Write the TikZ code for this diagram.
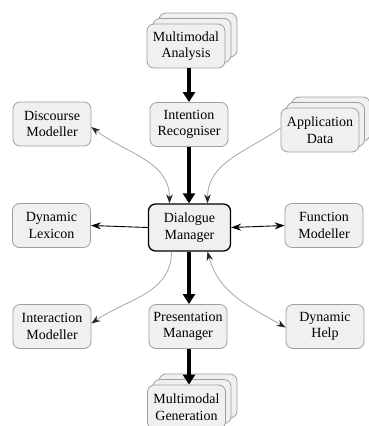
\documentclass[tikz,border=0pt]{standalone}
\usepackage{fontspec}
\setmainfont{Liberation Serif}
\usetikzlibrary{arrows.meta}
\begin{document}
\begin{tikzpicture}[x=1pt,y=1pt,
  box/.style={draw=gray!75, fill=gray!12, rounded corners=7pt, line width=0.8pt,
    minimum width=78pt, minimum height=44pt, align=center, inner sep=1pt,
    font=\fontsize{14}{16.5}\selectfont},
  dmbox/.style={box, draw=black, line width=1.3pt, minimum width=82pt, minimum height=47pt},
  back/.style={box},
  thick arrow/.style={line width=4.8pt, -{Triangle[length=10pt,width=12pt]}},
  thin arrow/.style={line width=0.9pt, -{Stealth[length=10pt,width=7pt]}},
  thin both/.style={line width=0.9pt, {Stealth[length=10pt,width=7pt]}-{Stealth[length=10pt,width=7pt]}},
  grey arrow/.style={draw=gray!70, line width=0.8pt, -{Stealth[length=9pt,width=6.5pt,color=black!85]}},
  grey both/.style={draw=gray!70, line width=0.8pt, {Stealth[length=9pt,width=6.5pt,color=black!85]}-{Stealth[length=9pt,width=6.5pt,color=black!85]}}
]
\useasboundingbox (0,0) rectangle (369,-426);

% stacked: Multimodal Analysis
\node[back] (mab2) at (198,-35) {};
\node[back] (mab1) at (192,-40.5) {};
\node[box] (ma) at (186,-46) {Multimodal\\Analysis};

% stacked: Application Data
\node[back] (adb2) at (331,-119) {};
\node[back] (adb1) at (325.5,-124.5) {};
\node[box] (ad) at (320,-130) {Application\\Data};

% stacked: Multimodal Generation
\node[back] (mgb2) at (198,-396) {};
\node[back] (mgb1) at (192,-401.5) {};
\node[box] (mg) at (186.5,-407) {Multimodal\\Generation};

\node[box] (ir) at (189,-124.5) {Intention\\Recogniser};
\node[box] (dism) at (52,-124) {Discourse\\Modeller};
\node[dmbox] (dm) at (189.5,-227.5) {Dialogue\\Manager};
\node[box] (dl) at (51.5,-225.5) {Dynamic\\Lexicon};
\node[box] (fm) at (324,-225.5) {Function\\Modeller};
\node[box] (im) at (52,-326.5) {Interaction\\Modeller};
\node[box] (pm) at (188,-326.5) {Presentation\\Manager};
\node[box] (dh) at (325,-326.5) {Dynamic\\Help};

% thick arrows
\draw[thick arrow] (ir.north |- ma.south) -- (ir.north);
\draw[thick arrow] (ir.south) -- (ir.south |- dm.north);
\draw[thick arrow] (dm.south -| ir.south) -- (ir.south |- pm.north);
\draw[thick arrow] (ir.south |- pm.south) -- (ir.south |- mg.north);

% thin black arrows
\draw[thin arrow] (dm.west) -- (dl.east);
\draw[thin both] (dm.east) -- (fm.west);

% grey curved arrows
\draw[grey both] ([yshift=-3pt]dism.east) to[out=-38,in=90] ([xshift=-20pt]dm.north);
\draw[grey arrow] ([yshift=2pt]ad.west) to[out=-145,in=90] ([xshift=18pt]dm.north);
\draw[grey arrow] ([xshift=-18pt]dm.south) to[out=-90,in=35] ([yshift=3pt]im.east);
\draw[grey both] ([xshift=18pt]dm.south) to[out=-75,in=150] ([yshift=-1pt]dh.west);
\end{tikzpicture}
\end{document}
